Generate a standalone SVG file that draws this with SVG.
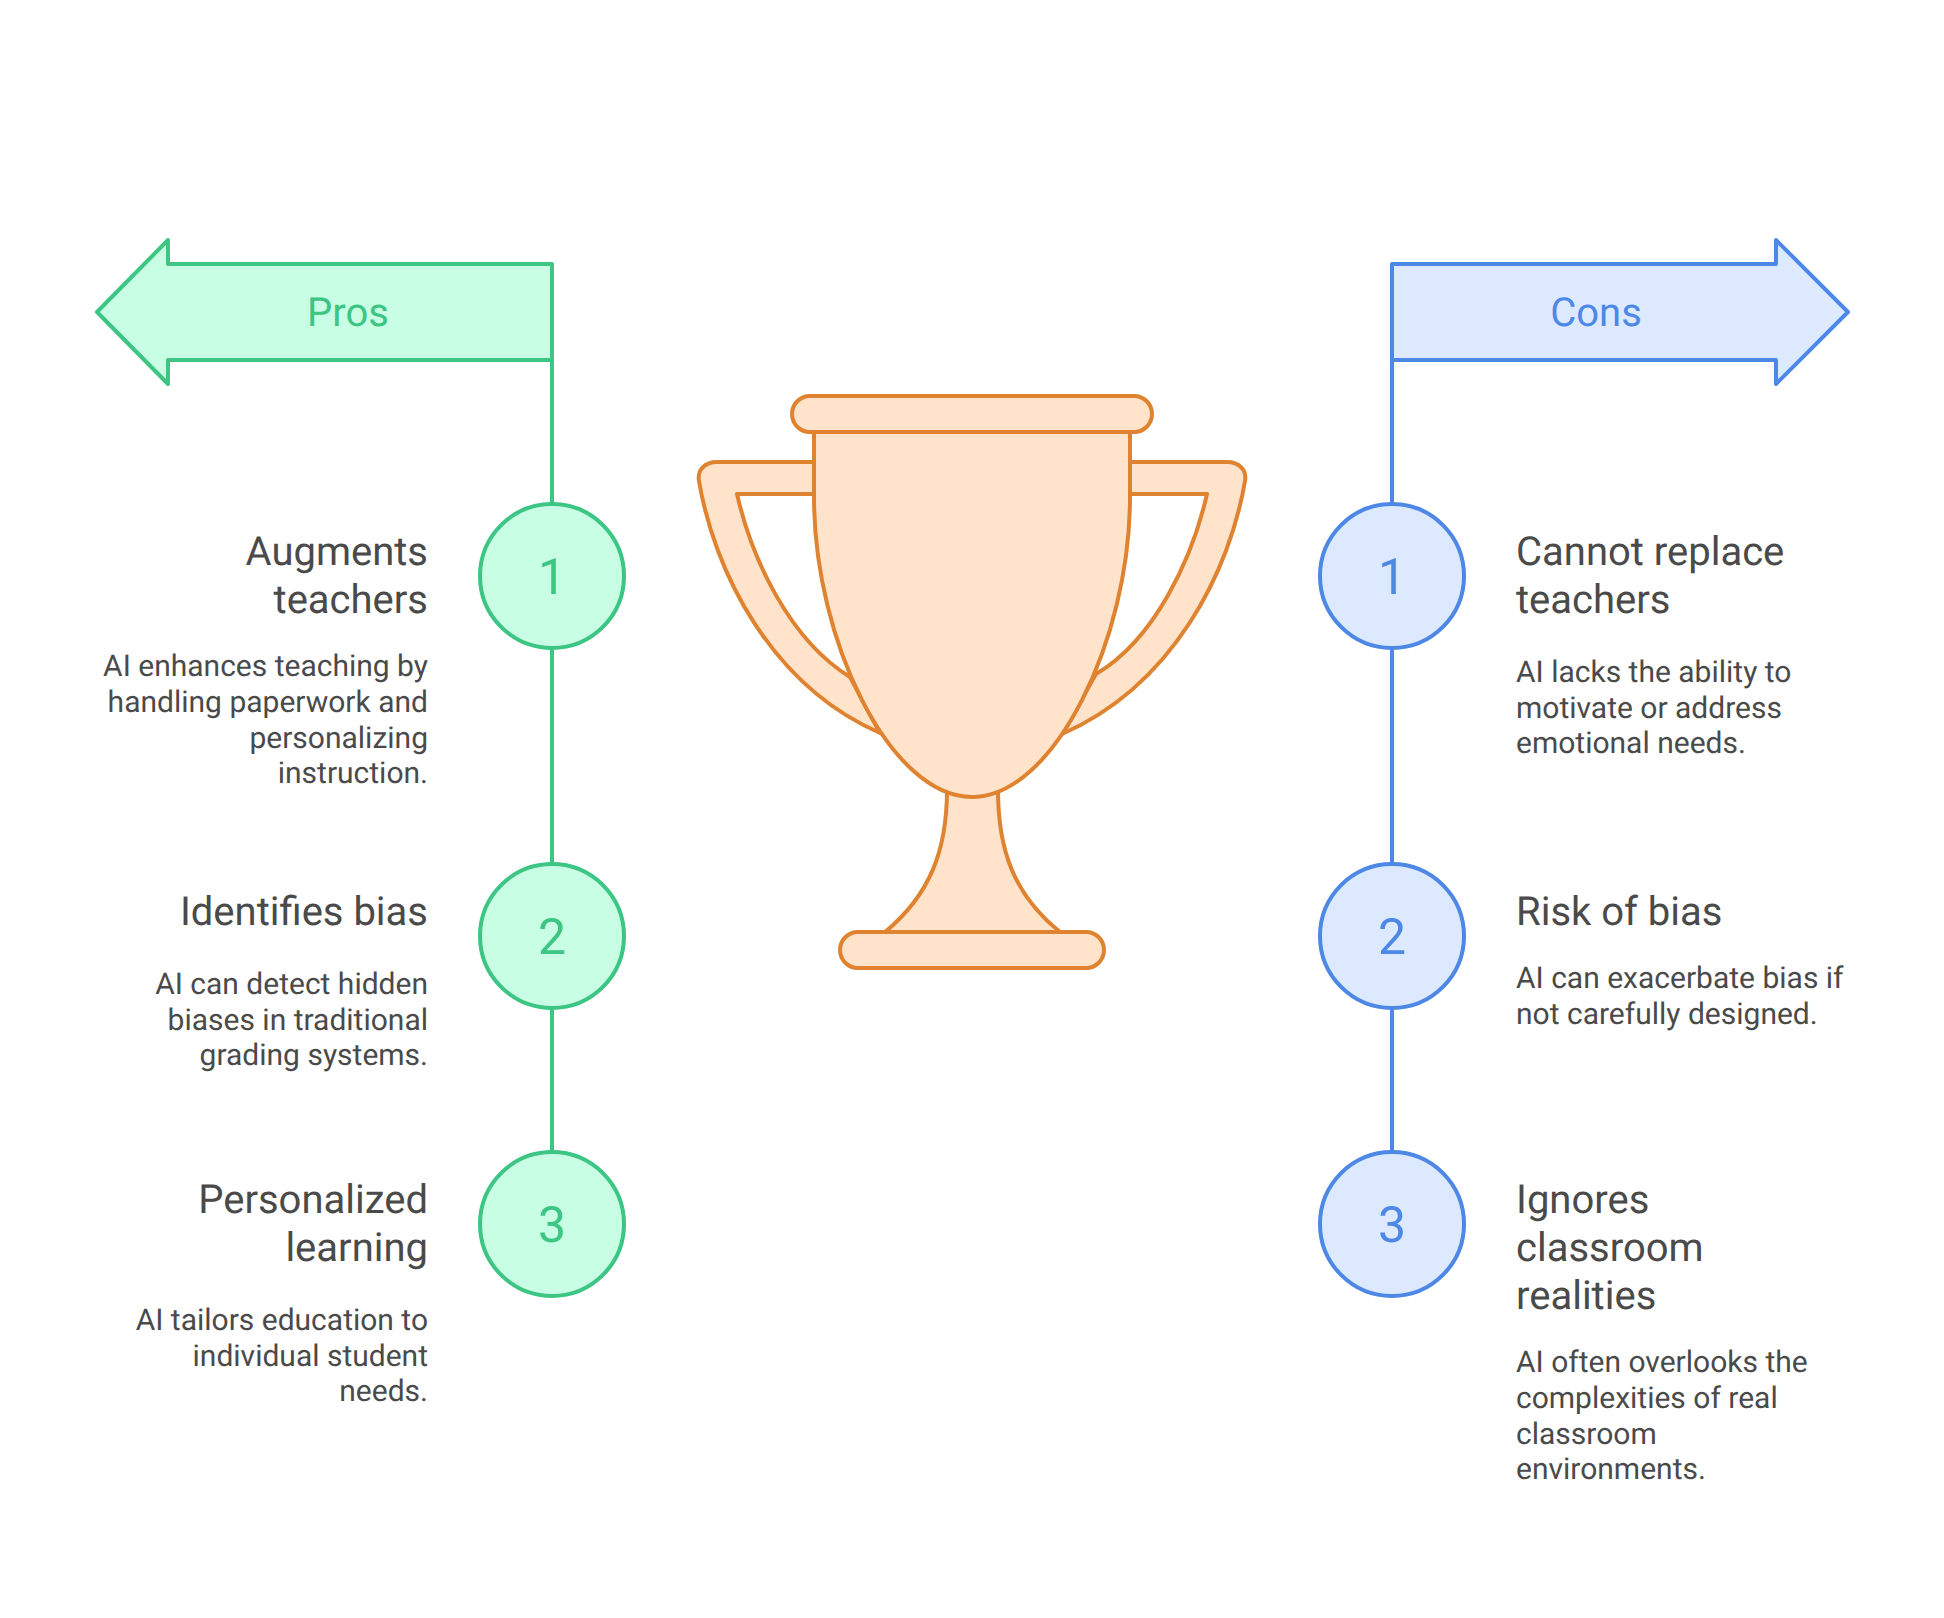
<svg xmlns="http://www.w3.org/2000/svg" width="1944" height="1618" viewBox="0 0 1944 1618">
<style>
text{font-family:Roboto,"Liberation Sans",sans-serif;text-rendering:geometricPrecision}
.h{font-size:40px;fill:#4a4a4a}
.b{font-size:30px;fill:#4a4a4a}
.l{text-anchor:end}
.t{font-size:40px;text-anchor:middle}
.n{font-size:50px;text-anchor:middle}
.g{fill:#C8FFE4;stroke:#3CC583;stroke-width:4;stroke-linejoin:round}
.u{fill:#DDE9FF;stroke:#4E88E7;stroke-width:4;stroke-linejoin:round}
.gl{stroke:#3CC583;stroke-width:4;fill:none}
.ul{stroke:#4E88E7;stroke-width:4;fill:none}
.gt{fill:#3CC583}
.ut{fill:#4E88E7}
.o{fill:#FFE3CB;stroke:#E08330;stroke-width:4;stroke-linejoin:round}
</style>
<rect width="1944" height="1618" fill="#fff"/>
<g id="connectors">
<path class="gl" d="M552 361V504M552 648V864M552 1008V1152"/>
<path class="ul" d="M1392 361V504M1392 648V864M1392 1008V1152"/>
</g>
<g id="pros-arrow"><path class="g" d="M552 264H168V240L97 312L168 384V360H552Z"/><text class="t gt" x="348" y="325.500">Pros</text></g>
<g id="cons-arrow"><path class="u" d="M1392 264H1776V240L1848 312L1776 384V360H1392Z"/><text class="t ut" x="1596" y="325.500">Cons</text></g>
<g id="trophy">
<path class="o" fill-rule="evenodd" d="M814 462H717C705 462 697 470 699 481C714 570 770 685 880 733L850 677C790 640 752 560 737 494H814ZM1130 462H1227C1239 462 1247 470 1245 481C1230 570 1174 685 1062 734L1096 674C1154 640 1192 560 1207 494H1130Z"/>
<path class="o" d="M947 790C947 850 930 895 885 932H1060C1014 895 998 850 998 790Z"/>
<path class="o" d="M814 432V497C814 640 890 797 972 797C1054 797 1130 640 1130 497V432Z"/>
<rect class="o" x="792" y="396" width="360" height="36" rx="18"/>
<rect class="o" x="840" y="932" width="264" height="36" rx="18"/>
</g>
<g id="pro-1"><circle class="g" cx="552" cy="576" r="72"/><text class="n gt" x="552" y="594">1</text>
<text class="h l" x="428" y="565">Augments</text><text class="h l" x="428" y="613">teachers</text>
<text class="b l" x="428" y="676">AI enhances teaching by</text><text class="b l" x="428" y="712">handling paperwork and</text><text class="b l" x="428" y="748">personalizing</text><text class="b l" x="428" y="783">instruction.</text></g>
<g id="pro-2"><circle class="g" cx="552" cy="936" r="72"/><text class="n gt" x="552" y="954">2</text>
<text class="h l" x="428" y="925">Identifies bias</text>
<text class="b l" x="428" y="994">AI can detect hidden</text><text class="b l" x="428" y="1030">biases in traditional</text><text class="b l" x="428" y="1065">grading systems.</text></g>
<g id="pro-3"><circle class="g" cx="552" cy="1224" r="72"/><text class="n gt" x="552" y="1242">3</text>
<text class="h l" x="428" y="1213">Personalized</text><text class="h l" x="428" y="1261">learning</text>
<text class="b l" x="428" y="1330">AI tailors education to</text><text class="b l" x="428" y="1366">individual student</text><text class="b l" x="428" y="1401">needs.</text></g>
<g id="con-1"><circle class="u" cx="1392" cy="576" r="72"/><text class="n ut" x="1392" y="594">1</text>
<text class="h" x="1516" y="565">Cannot replace</text><text class="h" x="1516" y="613">teachers</text>
<text class="b" x="1516" y="682">AI lacks the ability to</text><text class="b" x="1516" y="718">motivate or address</text><text class="b" x="1516" y="753">emotional needs.</text></g>
<g id="con-2"><circle class="u" cx="1392" cy="936" r="72"/><text class="n ut" x="1392" y="954">2</text>
<text class="h" x="1516" y="925">Risk of bias</text>
<text class="b" x="1516" y="988">AI can exacerbate bias if</text><text class="b" x="1516" y="1024">not carefully designed.</text></g>
<g id="con-3"><circle class="u" cx="1392" cy="1224" r="72"/><text class="n ut" x="1392" y="1242">3</text>
<text class="h" x="1516" y="1213">Ignores</text><text class="h" x="1516" y="1261">classroom</text><text class="h" x="1516" y="1309">realities</text>
<text class="b" x="1516" y="1372">AI often overlooks the</text><text class="b" x="1516" y="1408">complexities of real</text><text class="b" x="1516" y="1444">classroom</text><text class="b" x="1516" y="1479">environments.</text></g>
</svg>
